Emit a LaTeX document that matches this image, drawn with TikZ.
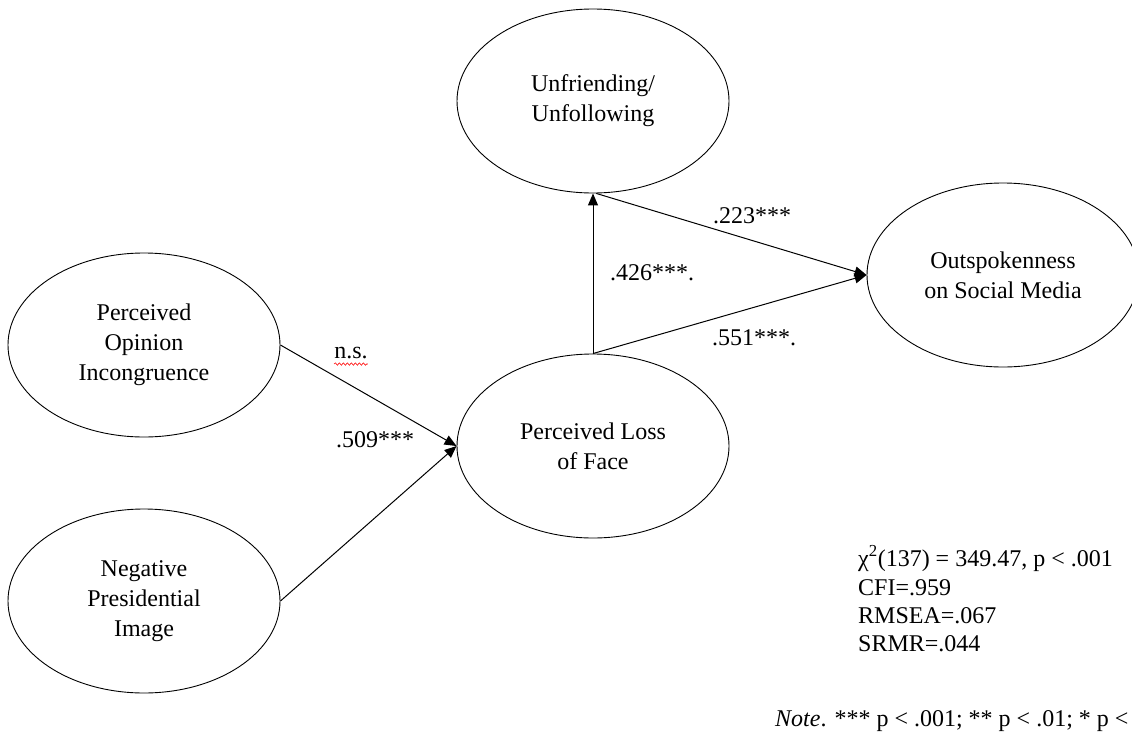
\documentclass[tikz,border=0pt]{standalone}
\usepackage{fontspec}
\setmainfont{Liberation Serif}
\usetikzlibrary{shapes.geometric,arrows.meta,decorations.pathmorphing,calc}
\begin{document}
\begin{tikzpicture}[x=1pt,y=-1pt,
  latent/.style={draw,ellipse,line width=0.9pt,minimum width=272pt,minimum height=184pt,inner sep=0pt,align=center,font=\fontsize{24}{30}\selectfont},
  sempath/.style={draw,line width=1pt,-{Triangle[length=12pt,width=10pt]}},
  coef/.style={font=\fontsize{24}{28}\selectfont,inner sep=0pt},
  stat/.style={font=\fontsize{24}{28}\selectfont,inner sep=0pt,anchor=base west}]
\useasboundingbox (0,0) rectangle (1132,734);
\clip (0,0) rectangle (1132,734);

\node[latent] (u) at (593,101) {Unfriending/\\Unfollowing};
\node[latent] (o) at (1003,275) {Outspokenness\\on Social Media};
\node[latent] (p) at (144,345) {Perceived\\Opinion\\Incongruence};
\node[latent] (n) at (144,601) {Negative\\Presidential\\Image};
\node[latent] (l) at (593,446) {Perceived Loss\\of Face};

\draw[sempath] (p.east) -- (l.west);
\draw[sempath] (n.east) -- (l.west);
\draw[sempath] (l.north) -- (u.south);
\draw[sempath] (u.-88) -- (o.west);
\draw[sempath] (l.north) -- (o.west);

\node[coef] (cns) at (351,353) {n.s.};
\coordinate (wa) at ($(cns.south west)+(0,5)$);
\coordinate (wb) at ($(cns.south east)+(0,5)$);
\draw[red,line width=0.6pt,decorate,decoration={snake,amplitude=1.2pt,segment length=4pt}] (wa) -- (wb);
\node[coef] (c509) at (375,440) {.509***};
\node[coef] (c426) at (652,273) {.426***.};
\node[coef] (c223) at (752,216) {.223***};
\node[coef] (c551) at (754,338) {.551***.};

\node[stat] (s1) at (858,566) {χ\textsuperscript{2}(137) = 349.47, p < .001};
\node[stat] (s2) at (858,595) {CFI=.959};
\node[stat] (s3) at (858,623) {RMSEA=.067};
\node[stat] (s4) at (858,651) {SRMR=.044};
\node[stat] (note) at (775,726) {\textit{Note}. *** p < .001; ** p < .01; * p <};
\end{tikzpicture}
\end{document}
